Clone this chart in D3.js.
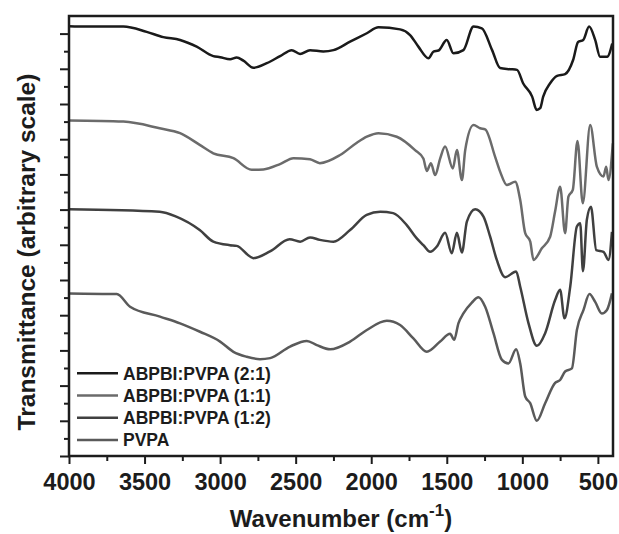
<!DOCTYPE html>
<html>
<head>
<meta charset="utf-8">
<script src="https://cdn.jsdelivr.net/npm/d3@7"></script>
<style>
	body { margin: 0; background: #fff; }
	svg text { font-family: "Liberation Sans", Arial, sans-serif; font-weight: bold; fill: #1c1c1c; }
</style>
</head>
<body>
<svg id="ftir-chart" width="619" height="534"></svg>
<script>
// [wavenumber cm-1, transmittance (arbitrary, stacked offsets)]
const ratio21 = [
	[4000, 12.21], [3880, 12.2], [3640, 12.2], [3486, 12.05], [3376, 11.9], [3265, 11.82], [3155, 11.63],
	[3045, 11.36], [3000, 11.33], [2934, 11.27], [2890, 11.32], [2846, 11.23], [2780, 11.03], [2691, 11.16],
	[2603, 11.36], [2526, 11.53], [2471, 11.42], [2405, 11.53], [2317, 11.49], [2250, 11.53], [2140, 11.77],
	[2029, 12.01], [1952, 12.18], [1809, 12.12], [1743, 11.96], [1688, 11.63], [1621, 11.3], [1588, 11.49],
	[1555, 11.52], [1500, 11.82], [1456, 11.44], [1390, 11.53], [1323, 12.2], [1268, 12.15], [1200, 11.53],
	[1147, 11.02], [1081, 10.99], [1035, 10.97], [995, 10.59], [935, 10.21], [905, 9.83], [882, 9.88],
	[862, 10.21], [816, 10.59], [770, 10.8], [717, 10.85], [664, 11.25], [631, 11.76], [597, 11.82],
	[558, 12.2], [518, 11.82], [485, 11.34], [439, 11.34], [405, 11.72]
];
const ratio11 = [
	[4000, 9.53], [3640, 9.5], [3400, 9.31], [3265, 9.17], [3135, 8.84], [3045, 8.6], [2912, 8.46],
	[2791, 8.13], [2714, 8.14], [2600, 8.3], [2515, 8.46], [2405, 8.43], [2340, 8.32], [2206, 8.55],
	[2095, 8.9], [2029, 9.07], [1952, 9.17], [1831, 9.07], [1710, 8.69], [1655, 8.45], [1632, 8.1],
	[1605, 8.32], [1577, 7.98], [1544, 8.45], [1511, 8.79], [1460, 8.17], [1433, 8.69], [1400, 7.84],
	[1378, 8.69], [1323, 9.4], [1279, 9.31], [1246, 9.28], [1180, 8.5], [1147, 8.08], [1102, 7.7],
	[1047, 7.79], [1014, 7.27], [981, 6.33], [948, 6.1], [926, 5.57], [871, 5.9], [816, 6.23],
	[783, 6.95], [750, 7.65], [717, 6.33], [695, 7.37], [666, 7.56], [635, 8.95], [600, 7.18],
	[551, 9.4], [507, 8.22], [463, 7.94], [445, 8.22], [430, 7.84], [401, 8.88]
];
const ratio12 = [
	[4000, 7.01], [3400, 6.94], [3290, 6.8], [3135, 6.42], [3045, 6.09], [2935, 5.99], [2890, 5.97],
	[2800, 5.66], [2780, 5.62], [2670, 5.81], [2540, 6.16], [2470, 6.09], [2405, 6.21], [2340, 6.14],
	[2250, 6.09], [2140, 6.42], [2030, 6.85], [1940, 6.94], [1855, 6.9], [1765, 6.56], [1700, 6.19],
	[1655, 5.99], [1610, 5.8], [1566, 5.95], [1511, 6.34], [1467, 5.76], [1433, 6.34], [1400, 5.78],
	[1367, 6.66], [1312, 7.01], [1257, 6.8], [1213, 6.23], [1169, 5.57], [1114, 5.08], [1041, 5.24],
	[1014, 4.81], [959, 3.77], [904, 3.13], [849, 3.49], [783, 4.43], [750, 4.72], [721, 3.91],
	[683, 4.81], [639, 6.52], [617, 6.61], [599, 5.25], [573, 6.71], [546, 7.08], [511, 5.85],
	[463, 5.8], [430, 5.57], [407, 6.37]
];
const pvpa = [
	[4000, 4.62], [3684, 4.6], [3596, 4.24], [3398, 3.96], [3265, 3.77], [3133, 3.53], [3000, 3.25],
	[2912, 2.96], [2824, 2.82], [2736, 2.75], [2669, 2.78], [2537, 3.11], [2426, 3.27], [2360, 3.15],
	[2272, 3.03], [2140, 3.25], [2029, 3.58], [1897, 3.84], [1809, 3.72], [1721, 3.34], [1632, 2.96],
	[1544, 3.25], [1478, 3.47], [1451, 3.3], [1423, 3.77], [1390, 4.05], [1334, 4.36], [1290, 4.51],
	[1246, 4.24], [1191, 3.49], [1135, 2.73], [1092, 2.63], [1041, 3.03], [1014, 2.63], [981, 1.69],
	[948, 1.5], [904, 1.0], [849, 1.5], [783, 2.08], [750, 2.16], [717, 2.4], [672, 2.49], [639, 3.58],
	[595, 4.15], [556, 4.6], [518, 4.38], [474, 4.05], [440, 4.15], [407, 4.62]
];

const seriesNames = ['ABPBI:PVPA (2:1)', 'ABPBI:PVPA (1:1)', 'ABPBI:PVPA (1:2)', 'PVPA'];
const seriesColors = ['#1a1a1a', '#6b6b6b', '#404040', '#5a5a5a'];
const xMajorTicks = [4000, 3500, 3000, 2500, 2000, 1500, 1000, 500];
const xMinorTicks = [3750, 3250, 2750, 2250, 1750, 1250, 750];
const yMajorTicks = d3.range(0, 13, 1);
const yMinorTicks = d3.range(0.5, 12.5, 1);

const width = 619;
const height = 534;
const margin = { top: 16, right: 6, bottom: 78, left: 69 };

const svg = d3.select('svg[id=ftir-chart]');

const x = d3.scaleLinear().domain([4000, 400]).range([margin.left, width - margin.right]);
const y = d3.scaleLinear().domain([0, 12.5]).range([height - margin.bottom, margin.top]);

const series = [ratio21, ratio11, ratio12, pvpa];

// spectra
const line = d3.line()
	.x((d) => x(d[0]))
	.y((d) => y(d[1]))
	.curve(d3.curveMonotoneX);

svg.append('g')
	.selectAll('path')
	.data(series)
	.join('path')
	.attr('d', line)
	.attr('fill', 'none')
	.attr('stroke', (d, i) => seriesColors[i])
	.attr('stroke-width', 2.5)
	.attr('stroke-linejoin', 'round');

// axes
const styleAxis = (g) => {
	g.select('.domain').remove();
	g.selectAll('.tick line').attr('stroke', '#1c1c1c').attr('stroke-width', 2);
};

svg.append('g')
	.attr('transform', `translate(0,${y(0)})`)
	.call(d3.axisBottom(x).tickValues(xMajorTicks).tickSize(8).tickPadding(9).tickFormat(d3.format('d')))
	.call(styleAxis)
	.call((g) => g.selectAll('text').style('font-size', '23.5px').attr('fill', '#1c1c1c'));

svg.append('g')
	.attr('transform', `translate(0,${y(0)})`)
	.call(d3.axisBottom(x).tickValues(xMinorTicks).tickSize(5).tickFormat(''))
	.call(styleAxis);

svg.append('g')
	.attr('transform', `translate(${x(4000)},0)`)
	.call(d3.axisLeft(y).tickValues(yMajorTicks).tickSize(9).tickFormat(''))
	.call(styleAxis);

svg.append('g')
	.attr('transform', `translate(${x(4000)},0)`)
	.call(d3.axisLeft(y).tickValues(yMinorTicks).tickSize(5).tickFormat(''))
	.call(styleAxis);

// frame
svg.append('rect')
	.attr('x', x(4000))
	.attr('y', y(12.5))
	.attr('width', x(400) - x(4000))
	.attr('height', y(0) - y(12.5))
	.attr('fill', 'none')
	.attr('stroke', '#1c1c1c')
	.attr('stroke-width', 2.5);

// axis titles
const xTitle = svg.append('text')
	.attr('x', (x(4000) + x(400)) / 2)
	.attr('y', 527)
	.attr('text-anchor', 'middle')
	.style('font-size', '24px');
xTitle.append('tspan').text('Wavenumber (cm');
xTitle.append('tspan').attr('dy', -11).style('font-size', '17px').text('-1');
xTitle.append('tspan').attr('dy', 11).text(')');

svg.append('text')
	.attr('transform', `translate(35,${(y(0) + y(12.5)) / 2 + 16}) rotate(-90)`)
	.attr('text-anchor', 'middle')
	.style('font-size', '24.5px')
	.text('Transmittance (arbitrary scale)');

// legend
const legend = svg.append('g')
	.selectAll('g')
	.data(seriesNames)
	.join('g')
	.attr('transform', (d, i) => `translate(77,${373.3 + i * 22.2})`);

legend.append('line')
	.attr('x1', 0)
	.attr('x2', 41)
	.attr('stroke', (d, i) => seriesColors[i])
	.attr('stroke-width', 2.5);

legend.append('text')
	.attr('x', 46)
	.attr('dy', '0.36em')
	.style('font-size', '17.5px')
	.text((d) => d);
</script>
</body>
</html>
